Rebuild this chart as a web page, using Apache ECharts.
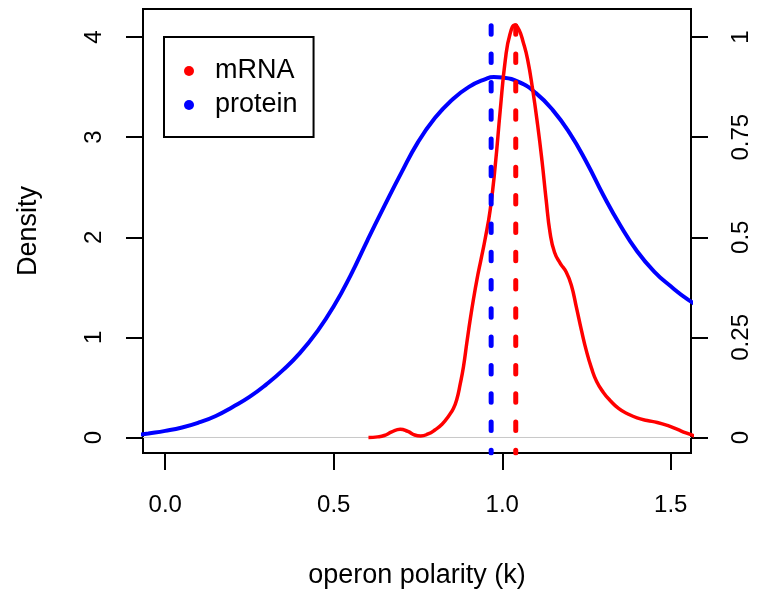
<!DOCTYPE html>
<html>
<head>
<meta charset="utf-8">
<script src="https://cdn.jsdelivr.net/npm/echarts@6/dist/echarts.min.js"></script>
<style>
html,body{margin:0;padding:0;background:#fff;}
#chart{width:758px;height:590px;}
</style>
</head>
<body>
<div id="chart"></div>
<script>
// mRNA density curve
const mrnaX = [0.603,0.630,0.650,0.672,0.697,0.720,0.740,0.758,0.780,0.800,0.822,0.842,0.855,0.865,0.875,0.885,0.895,0.905,0.915,0.925,0.937,0.949,0.964,0.979,0.994,1.009,1.023,1.038,1.050,1.062,1.075,1.090,1.105,1.118,1.130,1.142,1.155,1.172,1.190,1.205,1.220,1.235,1.250,1.265,1.280,1.300,1.320,1.345,1.370,1.400,1.430,1.460,1.490,1.520,1.545,1.575];
const mrnaY = [0.000,0.006,0.020,0.055,0.083,0.060,0.025,0.015,0.035,0.075,0.135,0.220,0.290,0.380,0.530,0.710,0.950,1.180,1.390,1.580,1.780,1.980,2.270,2.710,3.270,3.770,4.030,4.120,4.070,3.950,3.780,3.480,3.120,2.760,2.380,2.040,1.850,1.740,1.650,1.520,1.300,1.070,0.860,0.690,0.560,0.450,0.370,0.290,0.240,0.195,0.170,0.150,0.120,0.080,0.045,0.010];
// protein density curve
const proteinX = [-0.08,-0.05,0.00,0.05,0.10,0.15,0.20,0.25,0.30,0.35,0.40,0.45,0.50,0.55,0.60,0.65,0.70,0.75,0.80,0.85,0.90,0.95,0.975,1.00,1.05,1.10,1.15,1.20,1.25,1.30,1.35,1.40,1.45,1.50,1.55,1.60];
const proteinY = [0.025,0.040,0.066,0.100,0.150,0.215,0.305,0.405,0.530,0.675,0.845,1.055,1.310,1.620,1.970,2.310,2.640,2.950,3.190,3.370,3.500,3.580,3.600,3.595,3.550,3.440,3.270,3.040,2.750,2.420,2.120,1.860,1.660,1.510,1.380,1.280];
// modes (vertical dashed lines)
const mrnaMode = 1.040;
const proteinMode = 0.967;
// tick values
const xTicks = [0, 0.5, 1.0, 1.5];
const yTicks = [0, 1, 2, 3, 4];
const y2Ticks = [0, 0.25, 0.5, 0.75, 1];

const X_MIN = -0.066, X_MAX = 1.56;
const Y_MIN = -0.155, Y_MAX = 4.28;

const FONT = 'Liberation Sans, Arial, Helvetica, sans-serif';
const pairs = (xs, ys) => xs.map((x, i) => [x, ys[i]]);

const chart = echarts.init(document.getElementById('chart'), null, {renderer: 'canvas'});

const tickStyle = {show: true, length: 17, inside: false, lineStyle: {color: '#000', width: 2}};
const dashLine = (name, x, color) => ({
  name: name, type: 'line', data: [[x, Y_MAX], [x, Y_MIN]],
  symbol: 'none', silent: true, z: 4,
  lineStyle: {color: color, width: 5, type: [8.5, 19.8], dashOffset: 11.5, cap: 'round'}
});

chart.setOption({
  animation: false,
  backgroundColor: '#fff',
  grid: {left: 143, right: 67, top: 9, bottom: 137, show: true, borderColor: '#000', borderWidth: 2,
    backgroundColor: 'transparent', containLabel: false, outerBoundsMode: 'none'},
  legend: {
    data: ['mRNA', 'protein'],
    orient: 'vertical',
    left: 164, top: 37,
    icon: 'circle',
    itemWidth: 42, itemHeight: 10, itemGap: 0,
    padding: [17, 16, 15, 20],
    borderColor: '#000', borderWidth: 2,
    selectedMode: false,
    textStyle: {fontFamily: FONT, fontSize: 27, color: '#000', lineHeight: 34}
  },
  xAxis: {
    type: 'value', min: X_MIN, max: X_MAX, position: 'bottom',
    name: 'operon polarity (k)', nameLocation: 'middle', nameGap: 109,
    nameTextStyle: {fontFamily: FONT, fontSize: 27, color: '#000'},
    axisLine: {show: false, onZero: false},
    axisTick: Object.assign({customValues: xTicks}, tickStyle),
    axisLabel: {customValues: xTicks, margin: 40, fontFamily: FONT, fontSize: 24, color: '#000',
      formatter: v => v.toFixed(1)},
    splitLine: {show: false}
  },
  yAxis: [{
    type: 'value', min: Y_MIN, max: Y_MAX, position: 'left',
    name: 'Density', nameLocation: 'middle', nameGap: 101, nameRotate: 90,
    nameTextStyle: {fontFamily: FONT, fontSize: 27, color: '#000'},
    axisLine: {show: false, onZero: false},
    axisTick: Object.assign({customValues: yTicks}, tickStyle),
    axisLabel: {customValues: yTicks, margin: 37, rotate: 90, fontFamily: FONT, fontSize: 24, color: '#000',
      formatter: v => String(v)},
    splitLine: {show: false}
  }, {
    type: 'value', min: Y_MIN / 4, max: Y_MAX / 4, position: 'right',
    axisLine: {show: false, onZero: false},
    axisTick: Object.assign({customValues: y2Ticks}, tickStyle),
    axisLabel: {customValues: y2Ticks, margin: 38, rotate: 90, fontFamily: FONT, fontSize: 24, color: '#000',
      formatter: v => String(v)},
    splitLine: {show: false}
  }],
  series: [
    {name: 'zero', type: 'line', data: [[X_MIN, 0], [X_MAX, 0]], symbol: 'none', silent: true, z: 1,
      lineStyle: {color: '#c8c8c8', width: 1}},
    {name: 'protein', type: 'line', data: pairs(proteinX, proteinY), symbol: 'none', showSymbol: false,
      smooth: true, color: '#0000ff', itemStyle: {color: '#0000ff'}, lineStyle: {color: '#0000ff', width: 4}, z: 2},
    {name: 'mRNA', type: 'line', data: pairs(mrnaX, mrnaY), symbol: 'none', showSymbol: false,
      smooth: true, color: '#ff0000', itemStyle: {color: '#ff0000'}, lineStyle: {color: '#ff0000', width: 3.5}, z: 3},
    dashLine('protein mode', proteinMode, '#0000ff'),
    dashLine('mRNA mode', mrnaMode, '#ff0000')
  ]
});
</script>
</body>
</html>
